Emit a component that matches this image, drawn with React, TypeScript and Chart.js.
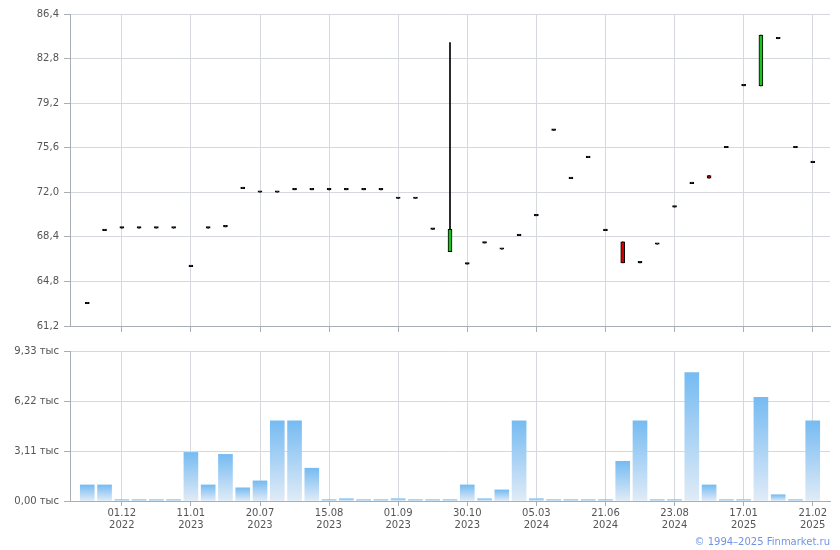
import React, { useEffect, useRef } from "react";
import { Chart, registerables } from "chart.js";

Chart.register(...registerables);

// ---- Data ----
const opens = [
  63.0, 68.9, 69.1, 69.1, 69.1, 69.1, 66.0, 69.1, 69.2, 72.3,
  72.0, 72.0, 72.2, 72.2, 72.2, 72.2, 72.2, 72.2, 71.5, 71.5,
  69.0, 67.2, 66.2, 67.9, 67.4, 68.5, 70.1, 77.0, 73.1, 74.8,
  68.9, 68.0, 66.3, 67.8, 70.8, 72.7, 73.35, 75.6, 80.6, 80.6,
  84.4, 75.6, 74.4,
];
const highs = [
  63.0, 68.9, 69.1, 69.1, 69.1, 69.1, 66.0, 69.1, 69.2, 72.3,
  72.0, 72.0, 72.2, 72.2, 72.2, 72.2, 72.2, 72.2, 71.5, 71.5,
  69.0, 84.1, 66.2, 67.9, 67.4, 68.5, 70.1, 77.0, 73.1, 74.8,
  68.9, 68.0, 66.3, 67.8, 70.8, 72.7, 73.35, 75.6, 80.6, 84.7,
  84.4, 75.6, 74.4,
];
const lows = [
  63.0, 68.9, 69.1, 69.1, 69.1, 69.1, 66.0, 69.1, 69.2, 72.3,
  72.0, 72.0, 72.2, 72.2, 72.2, 72.2, 72.2, 72.2, 71.5, 71.5,
  69.0, 67.2, 66.2, 67.9, 67.4, 68.5, 70.1, 77.0, 73.1, 74.8,
  68.9, 66.3, 66.3, 67.8, 70.8, 72.7, 73.15, 75.6, 80.6, 80.6,
  84.4, 75.6, 74.4,
];
const closes = [
  63.0, 68.9, 69.1, 69.1, 69.1, 69.1, 66.0, 69.1, 69.2, 72.3,
  72.0, 72.0, 72.2, 72.2, 72.2, 72.2, 72.2, 72.2, 71.5, 71.5,
  69.0, 69.0, 66.2, 67.9, 67.4, 68.5, 70.1, 77.0, 73.1, 74.8,
  68.9, 66.3, 66.3, 67.8, 70.8, 72.7, 73.15, 75.6, 80.6, 84.7,
  84.4, 75.6, 74.4,
];
// volume, thousands
const volumes = [
  1.0, 1.0, 0.08, 0.08, 0.08, 0.08, 3.02, 1.0, 2.9, 0.82,
  1.25, 4.98, 4.98, 2.04, 0.08, 0.14, 0.08, 0.08, 0.14, 0.08,
  0.08, 0.08, 1.0, 0.14, 0.69, 4.98, 0.14, 0.08, 0.08, 0.08,
  0.08, 2.47, 4.98, 0.08, 0.08, 7.98, 1.0, 0.08, 0.08, 6.45,
  0.39, 0.08, 4.98,
];
const tickIndexes = [2, 6, 10, 14, 18, 22, 26, 30, 34, 38, 42];
const tickDates = ["01.12", "11.01", "20.07", "15.08", "01.09", "30.10", "05.03", "21.06", "23.08", "17.01", "21.02"];
const tickYears = ["2022", "2023", "2023", "2023", "2023", "2023", "2024", "2024", "2024", "2025", "2025"];
const priceTicks = [61.2, 64.8, 68.4, 72.0, 75.6, 79.2, 82.8, 86.4];
const volumeTicks = [0, 3.11, 6.22, 9.33];

// ---- Styles ----
const FONT = "'DejaVu Sans', Verdana, sans-serif";
const TEXT = "#555555";
const GRID = "#d5d9de";
const AXIS = "#a9adb4";
const UP = "#1ec21e";
const DOWN = "#d40000";

const xMin = -1;
const xMax = opens.length;

function commonX(showLabels: boolean, tickLen: number) {
  return {
    type: "linear" as const,
    min: xMin,
    max: xMax,
    offset: false,
    afterBuildTicks: (s: any) => {
      s.ticks = tickIndexes.map((v) => ({ value: v }));
    },
    ticks: {
      display: showLabels,
      autoSkip: false,
      maxRotation: 0,
      padding: 1,
      color: TEXT,
      font: { family: FONT, size: 10, lineHeight: 1.2 },
      callback: (v: any) => {
        const k = tickIndexes.indexOf(Number(v));
        return k >= 0 ? [tickDates[k], tickYears[k]] : "";
      },
    },
    grid: { offset: false, color: GRID, tickColor: AXIS, tickLength: tickLen, drawTicks: true },
    border: { color: AXIS },
  };
}

export default function App() {
  const topRef = useRef<HTMLCanvasElement>(null);
  const botRef = useRef<HTMLCanvasElement>(null);

  useEffect(() => {
    const bodyColors = opens.map((o, i) => (closes[i] > o ? UP : closes[i] < o ? DOWN : "#000000"));
    const top = new Chart(topRef.current!, {
      type: "bar",
      data: {
        datasets: [
          {
            label: "body",
            data: opens.map((o, i) => ({ x: i, y: [Math.min(o, closes[i]), Math.max(o, closes[i])] })) as any,
            backgroundColor: bodyColors,
            borderColor: "#000000",
            borderWidth: 1,
            borderSkipped: false,
            barThickness: 4,
            minBarLength: 1.5,
            grouped: false,
          },
          {
            label: "wick",
            data: lows.map((l, i) => ({ x: i, y: [l, highs[i]] })) as any,
            backgroundColor: "#000000",
            borderWidth: 0,
            barThickness: 1,
            grouped: false,
          },
        ],
      },
      options: {
        animation: false,
        responsive: false,
        devicePixelRatio: 1,
        layout: { padding: { top: 14, right: 10, left: 0, bottom: 0 } },
        plugins: { legend: { display: false }, tooltip: { enabled: false } },
        scales: {
          x: { ...commonX(false, 6), afterFit: (s: any) => { s.height = 14; } } as any,
          y: {
            type: "linear",
            min: priceTicks[0],
            max: priceTicks[priceTicks.length - 1],
            afterBuildTicks: (s: any) => {
              s.ticks = priceTicks.map((v) => ({ value: v }));
            },
            afterFit: (s: any) => { s.width = 70; },
            ticks: {
              padding: 5,
              color: TEXT,
              font: { family: FONT, size: 10 },
              callback: (v: any) => Number(v).toFixed(1).replace(".", ","),
            },
            grid: { color: GRID, tickColor: AXIS, tickLength: 6 },
            border: { color: AXIS },
          } as any,
        },
      },
    });

    const bot = new Chart(botRef.current!, {
      type: "bar",
      data: {
        datasets: [
          {
            label: "volume",
            data: volumes.map((v, i) => ({ x: i, y: v })) as any,
            barThickness: 14,
            borderWidth: 0,
            backgroundColor: (c: any) => {
              const chart = c.chart;
              const ys = chart.scales && chart.scales.y;
              if (!ys || c.type !== "data") return "#9cc9f2";
              const t = ys.getPixelForValue(c.raw.y);
              const b = ys.getPixelForValue(0);
              if (!isFinite(t) || !isFinite(b) || Math.abs(b - t) < 0.5) return "#8fc0ee";
              const g = chart.ctx.createLinearGradient(0, t, 0, b);
              g.addColorStop(0, "#76bbf2");
              g.addColorStop(1, "#e0ebf7");
              return g;
            },
          },
        ],
      },
      options: {
        animation: false,
        responsive: false,
        devicePixelRatio: 1,
        layout: { padding: { top: 9, right: 10, left: 0, bottom: 0 } },
        plugins: { legend: { display: false }, tooltip: { enabled: false } },
        scales: {
          x: { ...commonX(true, 5), afterFit: (s: any) => { s.height = 49; } } as any,
          y: {
            type: "linear",
            min: 0,
            max: volumeTicks[volumeTicks.length - 1],
            afterBuildTicks: (s: any) => {
              s.ticks = volumeTicks.map((v) => ({ value: v }));
            },
            afterFit: (s: any) => { s.width = 70; },
            ticks: {
              padding: 5,
              color: TEXT,
              font: { family: FONT, size: 10 },
              callback: (v: any) => Number(v).toFixed(2).replace(".", ",") + " тыс",
            },
            grid: { color: GRID, tickColor: AXIS, tickLength: 6 },
            border: { color: AXIS },
          } as any,
        },
      },
    });

    return () => {
      top.destroy();
      bot.destroy();
    };
  }, []);

  return (
    <div style={{ position: "absolute", left: 0, top: 0, width: 840, height: 550, background: "#ffffff", overflow: "hidden" }}>
      <canvas ref={topRef} width={840} height={340} style={{ position: "absolute", left: 0, top: 0, width: 840, height: 340 }} />
      <canvas ref={botRef} width={840} height={210} style={{ position: "absolute", left: 0, top: 340, width: 840, height: 210 }} />
      <div
        style={{
          position: "absolute",
          right: 10,
          top: 535,
          fontFamily: FONT,
          fontSize: 10,
          lineHeight: "14px",
          color: "#6f93e6",
          whiteSpace: "nowrap",
        }}
      >
        © 1994–2025 Finmarket.ru
      </div>
    </div>
  );
}
